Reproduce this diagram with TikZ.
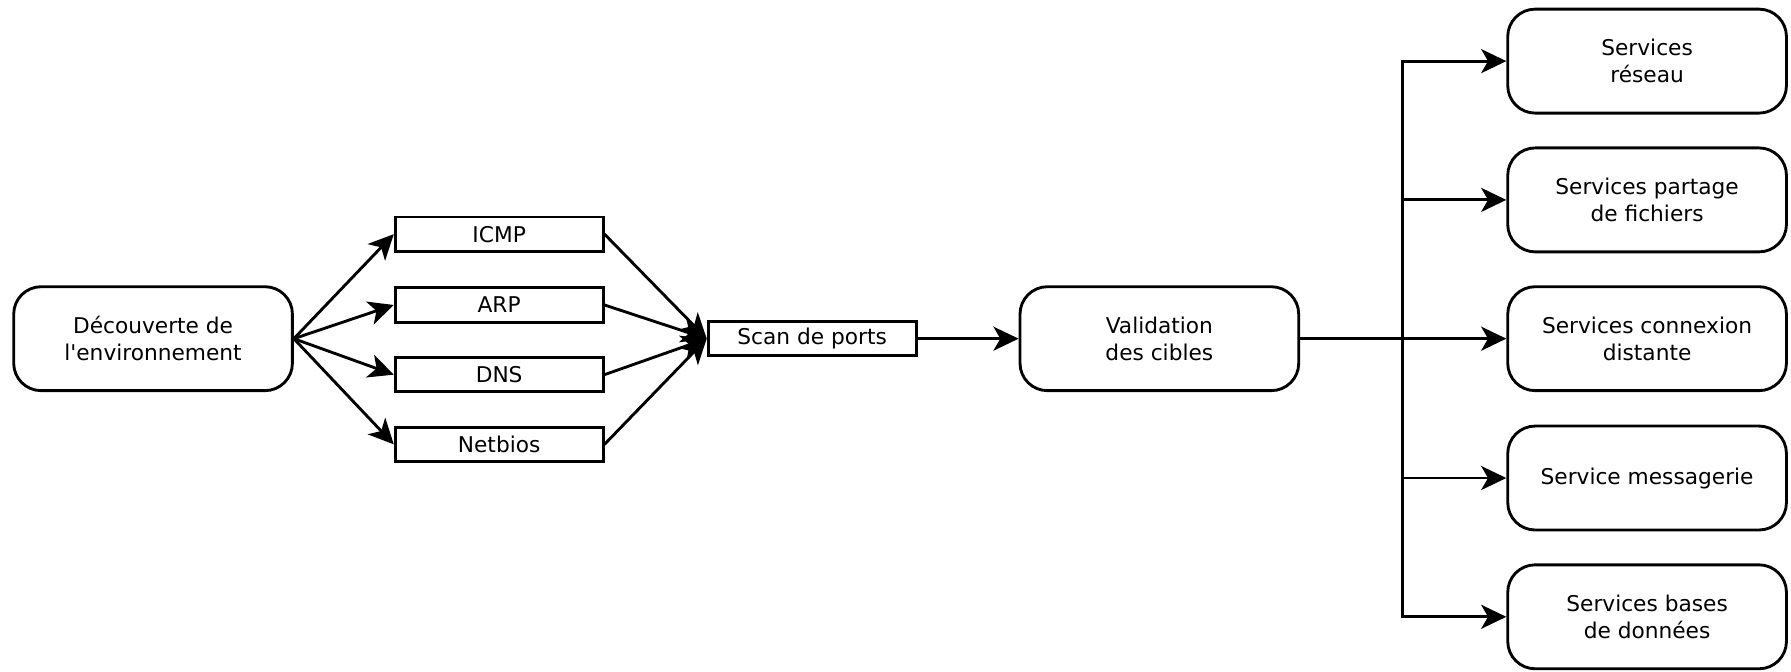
\documentclass[tikz,border=0pt]{standalone}
\usepackage{fontspec}
\setmainfont{DejaVu Sans}
\usetikzlibrary{arrows.meta, positioning}

\begin{document}
\begin{tikzpicture}[x=1pt, y=-1pt,
    every node/.style={font=\fontsize{19}{24}\selectfont, align=center, inner sep=0pt},
    phase/.style={draw, line width=2.5pt, rounded corners=24pt, minimum width=244pt, minimum height=91pt},
    proto/.style={draw, line width=2.5pt, minimum width=182pt, minimum height=30pt},
    arr/.style={line width=2.5pt, -{Stealth[length=22pt, width=21pt, inset=6pt]}}]
    \useasboundingbox (0,0) rectangle (1568,587.5);

    % Decouverte et protocoles
    \node[phase] (disc) at (134,296.5) {Découverte de\\l\textquotesingle environnement};
    \node[proto] (icmp) at (437,205) {ICMP};
    \node[proto] (arp) at (437,267) {ARP};
    \node[proto] (dns) at (437,328) {DNS};
    \node[proto] (netbios) at (437,389) {Netbios};

    % Scan et validation
    \node[proto] (scan) at (711,296.5) {Scan de ports};
    \node[phase] (valid) at (1015,296.5) {Validation\\des cibles};

    % Services
    \node[phase] (reseau) at (1442,53.5) {Services\\réseau};
    \node[phase] (partage) at (1442,175) {Services partage\\de fichiers};
    \node[phase] (distante) at (1442,296.5) {Services connexion\\distante};
    \node[phase] (messagerie) at (1442,418.5) {Service messagerie};
    \node[phase] (bdd) at (1442,540) {Services bases\\de données};

    \foreach \p in {icmp, arp, dns, netbios} {
        \draw[arr] (disc.east) -- (\p.west);
        \draw[arr] (\p.east) -- (scan.west);
    }
    \draw[arr] (scan.east) -- (valid.west);

    % Bus vers les services
    \coordinate (bus) at (1228,296.5);
    \foreach \s in {reseau, partage, distante, messagerie, bdd}
        \draw[arr] (valid.east) -- (bus) |- (\s.west);
\end{tikzpicture}
\end{document}
